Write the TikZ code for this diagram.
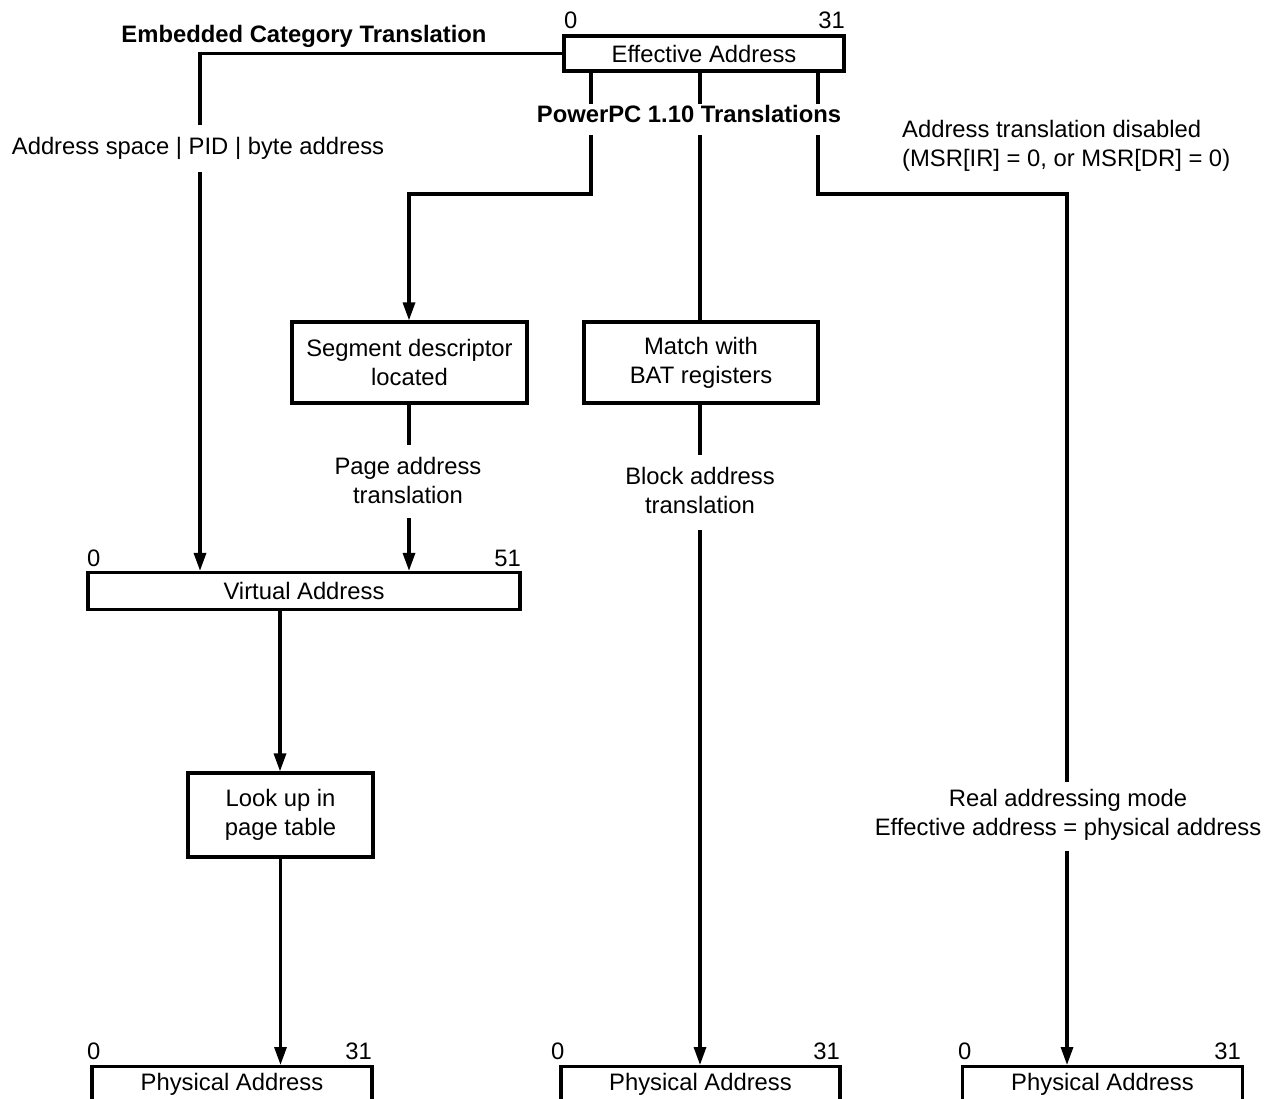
\documentclass[tikz,border=0pt]{standalone}
\usepackage{fontspec}
\setmainfont{Liberation Sans}
\usetikzlibrary{arrows.meta}
\begin{document}
\begin{tikzpicture}[x=1pt,y=-1pt,
  ln/.style={line width=3.2pt},
  arr/.style={ln,-{Triangle[length=18pt,width=12pt]}},
  fnt/.style={font=\fontsize{23.8}{29}\selectfont},
  box/.style={draw,line width=3.2pt,inner sep=0pt,align=center,fnt},
  txt/.style={inner sep=0pt,align=center,fnt},
  btxt/.style={inner sep=0pt,align=center,font=\fontsize{23.8}{29}\selectfont\bfseries}]
\useasboundingbox (0,0) rectangle (1273,1099);
\clip (0,0) rectangle (1273,1099);

% boxes
\node[box,minimum width=280pt,minimum height=35pt] (ea) at (704,53.5) {Effective Address};
\node[txt,anchor=west] (ea0) at (564,20) {0};
\node[txt,anchor=east] (ea31) at (845,20) {31};

\node[box,minimum width=235pt,minimum height=81pt] (seg) at (409.5,362.5) {Segment descriptor\\located};
\node[box,minimum width=234pt,minimum height=81pt] (bat) at (701,362.5) {Match with\\BAT registers};

\node[box,minimum width=432pt,minimum height=37pt] (va) at (304,591) {Virtual Address};
\node[txt,anchor=west] (va0) at (87,558) {0};
\node[txt,anchor=east] (va51) at (521,558) {51};

\node[box,minimum width=185pt,minimum height=84pt] (lu) at (280.5,815) {Look up in\\page table};

\node[box,minimum width=280pt,minimum height=80pt,anchor=north] (pa1) at (232,1065) {};
\node[box,minimum width=279pt,minimum height=80pt,anchor=north] (pa2) at (700.5,1065) {};
\node[box,minimum width=280pt,minimum height=80pt,anchor=north] (pa3) at (1102.5,1065) {};
\node[txt] (pa1t) at (232,1084) {Physical Address};
\node[txt] (pa2t) at (700.5,1084) {Physical Address};
\node[txt] (pa3t) at (1102.5,1084) {Physical Address};
\node[txt,anchor=west] (pa10) at (87,1051) {0};
\node[txt,anchor=east] (pa131) at (372,1051) {31};
\node[txt,anchor=west] (pa20) at (551,1051) {0};
\node[txt,anchor=east] (pa231) at (840,1051) {31};
\node[txt,anchor=west] (pa30) at (958,1051) {0};
\node[txt,anchor=east] (pa331) at (1241,1051) {31};

% labels
\node[btxt] (emb) at (304,36) {Embedded Category Translation};
\node[btxt] (ppc) at (689,114) {PowerPC 1.10 Translations};
\node[txt] (asp) at (198,148) {Address space | PID | byte address};
\node[txt,align=left,anchor=west] (dis) at (902,146) {Address translation disabled\\(MSR[IR] = 0, or MSR[DR] = 0)};
\node[txt] (pat) at (408,480) {Page address\\translation};
\node[txt] (bat2) at (700,490) {Block address\\translation};
\node[txt] (real) at (1068,815) {Real addressing mode\\Effective address = physical address};

% coordinates
\coordinate (e1) at (200,125);
\coordinate (e2) at (200,172);
\coordinate (p1) at (591,104);
\coordinate (p2) at (591,135);
\coordinate (p3) at (409,194);
\coordinate (m1) at (700,104);
\coordinate (m2) at (700,135);
\coordinate (r1) at (818,104);
\coordinate (r2) at (818,135);
\coordinate (r3) at (1067,782);
\coordinate (r4) at (1067,851);
\coordinate (s1) at (409,445);
\coordinate (s2) at (409,518);
\coordinate (b1) at (700,455);
\coordinate (b2) at (700,530);
\coordinate (v1) at (280,609);

% connectors
\draw[ln] (ea.west) -| (e1);
\draw[arr] (e2) -- (e2 |- va.north);
\draw[ln] (p1 |- ea.south) -- (p1);
\draw[arr] (p2) |- (p3) -- (p3 |- seg.north);
\draw[ln] (m1 |- ea.south) -- (m1);
\draw[ln] (m2) -- (m2 |- bat.north);
\draw[ln] (r1 |- ea.south) -- (r1);
\draw[ln] (r2) |- (r3 |- p3) -- (r3);
\draw[arr] (r4) -- (r4 |- pa3.north);
\draw[ln] (s1 |- seg.south) -- (s1);
\draw[arr] (s2) -- (s2 |- va.north);
\draw[ln] (b1 |- bat.south) -- (b1);
\draw[arr] (b2) -- (b2 |- pa2.north);
\draw[arr] (v1 |- va.south) -- (v1 |- lu.north);
\draw[arr] (lu.south) -- (lu.south |- pa1.north);
\end{tikzpicture}
\end{document}
